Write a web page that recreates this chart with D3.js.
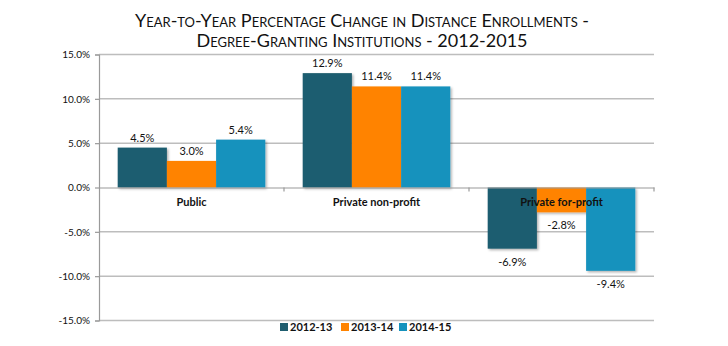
<!DOCTYPE html>
<html>
<head>
<meta charset="utf-8">
<script src="https://cdn.jsdelivr.net/npm/d3@7"></script>
<style>
  body { margin: 0; background: #fff; }
  svg text { font-family: Lato, "Open Sans", sans-serif; fill: #111; }
</style>
</head>
<body>
<div id="holder"></div>
<script>
// enrollment change by sector and academic year
const sectors = ['Public', 'Private non-profit', 'Private for-profit'];
const years = ['2012-13', '2013-14', '2014-15'];
const values2012 = [4.5, 12.9, -6.9];
const values2013 = [3.0, 11.4, -2.8];
const values2014 = [5.4, 11.4, -9.4];
const yTicks = [-15, -10, -5, 0, 5, 10, 15];
const titleLines = [
    'Year-to-Year Percentage Change in Distance Enrollments -',
    'Degree-Granting Institutions - 2012-2015'
];
const colors = ['#1f5d6f', '#ff8300', '#1592bd'];

const series = [values2012, values2013, values2014];

const w = 728;
const h = 346;
const plotLeft = 99, plotRight = 654, plotTop = 54.5, plotBottom = 320.5;

// plain hyphen for negatives
const pct = d => d3.format('.1f')(d).replace('\u2212', '-') + '%';

const svg = d3.select('#holder')
    .append('svg')
    .attr('width', w)
    .attr('height', h);

const shadow = svg.append('defs').append('filter')
    .attr('id', 'shade')
    .attr('x', '-10%').attr('y', '-10%')
    .attr('width', '130%').attr('height', '130%');
shadow.append('feDropShadow')
    .attr('dx', 1.5).attr('dy', 1.5)
    .attr('stdDeviation', 1.2)
    .attr('flood-color', '#000')
    .attr('flood-opacity', 0.3);

// title, two lines in small caps
svg.append('g')
    .selectAll('text')
    .data(titleLines)
    .enter()
    .append('text')
    .attr('x', 362)
    .attr('y', (d, i) => 26.5 + i * 20.5)
    .attr('text-anchor', 'middle')
    .style('font-variant', 'small-caps')
    .style('font-size', '18px')
    .text(d => d);

const yScale = d3.scaleLinear()
    .domain([-15, 15])
    .range([plotBottom, plotTop]);

const x0 = d3.scaleBand()
    .domain(sectors)
    .range([plotLeft, plotRight]);

const x1 = d3.scaleBand()
    .domain(years)
    .range([0, x0.bandwidth()])
    .paddingOuter(0.38);

// gridlines
svg.append('g')
    .selectAll('line')
    .data(yTicks.filter(d => d !== 0))
    .enter()
    .append('line')
    .attr('x1', plotLeft)
    .attr('x2', plotRight)
    .attr('y1', d => yScale(d))
    .attr('y2', d => yScale(d))
    .attr('stroke', '#bdbdbd')
    .attr('stroke-width', 1.5);

const yAxis = d3.axisLeft(yScale)
    .tickValues(yTicks)
    .tickSize(4)
    .tickPadding(5)
    .tickFormat(pct);

svg.append('g')
    .attr('transform', 'translate(' + plotLeft + ',0)')
    .call(yAxis)
    .call(g => g.selectAll('path, line').attr('stroke', '#9a9a9a').attr('stroke-width', 1.2))
    .call(g => g.selectAll('text').style('font-size', '10px').attr('fill', '#111'));

// bars
const groups = svg.append('g')
    .selectAll('g')
    .data(sectors)
    .enter()
    .append('g')
    .attr('transform', d => 'translate(' + x0(d) + ',0)');

groups.selectAll('rect')
    .data((s, i) => series.map((vals, k) => ({ year: years[k], value: vals[i], k: k })))
    .enter()
    .append('rect')
    .attr('x', d => x1(d.year))
    .attr('y', d => yScale(Math.max(0, d.value)))
    .attr('width', x1.bandwidth())
    .attr('height', d => Math.abs(yScale(d.value) - yScale(0)))
    .attr('fill', d => colors[d.k])
    .attr('filter', 'url(#shade)');

groups.selectAll('text.val')
    .data((s, i) => series.map((vals, k) => ({ year: years[k], value: vals[i] })))
    .enter()
    .append('text')
    .attr('class', 'val')
    .attr('x', d => x1(d.year) + x1.bandwidth() / 2)
    .attr('y', d => d.value >= 0 ? yScale(d.value) - 6 : yScale(d.value) + 17)
    .attr('text-anchor', 'middle')
    .style('font-size', '11px')
    .text(d => pct(d.value));

// zero axis with category ticks
const xAxis = d3.axisBottom(x0)
    .tickValues([])
    .tickSizeOuter(0);

svg.append('g')
    .attr('transform', 'translate(0,' + yScale(0) + ')')
    .call(xAxis)
    .call(g => g.select('path').attr('stroke', '#9a9a9a').attr('stroke-width', 1.2));

svg.append('g')
    .selectAll('line')
    .data([plotLeft + x0.step(), plotLeft + 2 * x0.step(), plotRight])
    .enter()
    .append('line')
    .attr('x1', d => d).attr('x2', d => d)
    .attr('y1', yScale(0)).attr('y2', yScale(0) + 4)
    .attr('stroke', '#9a9a9a')
    .attr('stroke-width', 1.2);

svg.append('g')
    .selectAll('text')
    .data(sectors)
    .enter()
    .append('text')
    .attr('x', d => x0(d) + x0.bandwidth() / 2)
    .attr('y', yScale(0) + 18)
    .attr('text-anchor', 'middle')
    .style('font-size', '11px')
    .style('font-weight', 'bold')
    .text(d => d);

// legend
const legendX = [280, 341, 399];
const legend = svg.append('g')
    .selectAll('g')
    .data(years)
    .enter()
    .append('g')
    .attr('transform', (d, i) => 'translate(' + legendX[i] + ',323)');

legend.append('rect')
    .attr('width', 8)
    .attr('height', 8)
    .attr('fill', (d, i) => colors[i]);

legend.append('text')
    .attr('x', 10)
    .attr('y', 8)
    .style('font-size', '11px')
    .style('font-weight', 'bold')
    .text(d => d);
</script>
</body>
</html>
